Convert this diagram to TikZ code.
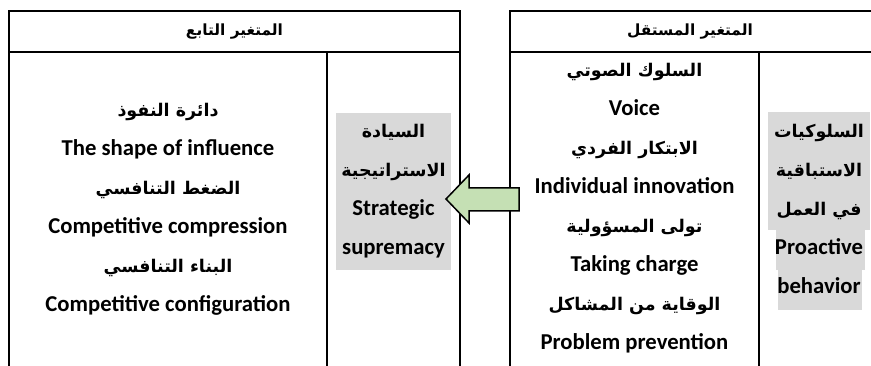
\documentclass[tikz,border=0pt]{standalone}
\usepackage{fontspec}
\setmainfont{Carlito}
\newfontfamily\arabicfont[Script=Arabic,Scale=0.77]{DejaVu Sans}
\TeXXeTstate=1
\newcommand{\artxt}[1]{{\arabicfont\beginR #1\endR}}
\definecolor{boxgray}{HTML}{D9D9D9}
\definecolor{arrowgreen}{HTML}{C5E0B4}

\begin{document}
\begin{tikzpicture}[x=1pt, y=-1pt,
    every node/.style={font=\fontsize{22.7}{39}\selectfont\bfseries, align=center, inner sep=0pt},
    frame/.style={line width=1.3pt},
    header/.style={font=\fontsize{20}{26}\selectfont\bfseries},
    graybox/.style={fill=boxgray},
    ]
  \useasboundingbox (0,0) rectangle (871,366);
  % dependent variable table
  \draw[frame] (9,366) -- (9,11) -- (460,11) -- (460,366);
  \draw[frame] (9,52) -- (460,52);
  \draw[frame] (327,52) -- (327,366);
  % independent variable table
  \draw[frame] (510,366) -- (510,11) -- (872,11);
  \draw[frame] (510,52) -- (872,52);
  \draw[frame] (759,52) -- (759,366);
  % headers
  \node[header] (dephead) at (234.5,31.5) {\artxt{المتغير التابع}};
  \node[header] (indhead) at (690,31.5) {\artxt{المتغير المستقل}};
  % gray boxes
  \node[graybox, minimum width=115pt, minimum height=157pt] (supremacy) at (393.5,191.5)
    {\artxt{السيادة}\\ \artxt{الاستراتيجية}\\ Strategic\\ supremacy};
  \fill[boxgray] (768,112) rectangle (870,230);
  \fill[boxgray] (776,230) rectangle (865,270);
  \fill[boxgray] (778,270) rectangle (862,310);
  \node (proactive) at (819,209)
    {\artxt{السلوكيات}\\ \artxt{الاستباقية}\\ \artxt{في العمل}\\ Proactive\\ behavior};
  % dimensions
  \node (influence) at (168,209.5)
    {\artxt{دائرة النفوذ}\\ The shape of influence\\ \artxt{الضغط التنافسي}\\
     Competitive compression\\ \artxt{البناء التنافسي}\\ Competitive configuration};
  \node (voice) at (634.5,208.5)
    {\artxt{السلوك الصوتي}\\ Voice\\ \artxt{الابتكار الفردي}\\ Individual innovation\\
     \artxt{تولى المسؤولية}\\ Taking charge\\ \artxt{الوقاية من المشاكل}\\ Problem prevention};
  % arrow
  \filldraw[fill=arrowgreen, draw=black, line width=1.5pt, line join=miter]
    (446,199) -- (469,175) -- (469,188) -- (519,188) -- (519,211) -- (469,211) -- (469,223) -- cycle;
\end{tikzpicture}
\end{document}
